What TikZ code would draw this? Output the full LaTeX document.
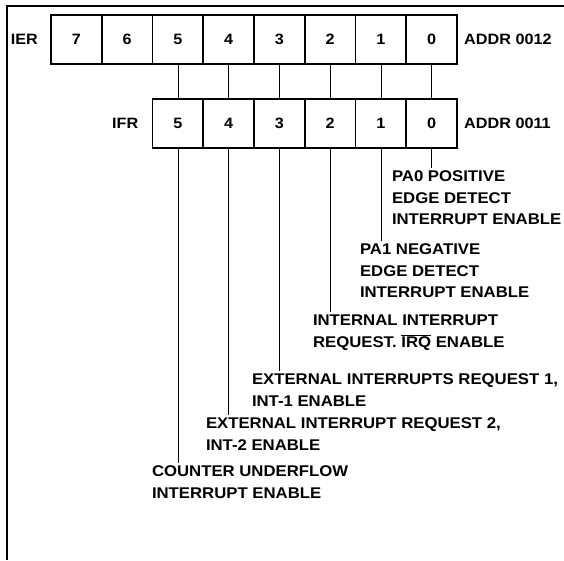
\documentclass[tikz,border=0pt]{standalone}
\usepackage{fontspec}
\setmainfont{Liberation Sans}[FakeStretch=1.08]
\usetikzlibrary{positioning}

\begin{document}
\begin{tikzpicture}[x=1pt,y=-1pt,node distance=0pt,
  cell/.style={draw,line width=1.6pt,outer sep=0pt,inner sep=0pt,minimum width=50.75pt,minimum height=49pt,font=\bfseries\fontsize{15}{15}\selectfont},
  lbl/.style={inner sep=0pt,font=\bfseries\fontsize{15}{15}\selectfont},
  note/.style={anchor=north west,align=left,inner sep=0pt,outer sep=3pt,font=\bfseries\fontsize{15.5}{21.5}\selectfont},
  wire/.style={line width=0.8pt}]
\useasboundingbox (0,0) rectangle (564,560);
\draw[line width=1.5pt] (7,560) -- (7,6) -- (564,6);
% IER register
\node[cell](e7) at (76.4,39.5) {7};
\node[cell,right=of e7](e6){6};
\node[cell,right=of e6](e5){5};
\node[cell,right=of e5](e4){4};
\node[cell,right=of e4](e3){3};
\node[cell,right=of e3](e2){2};
\node[cell,right=of e2](e1){1};
\node[cell,right=of e1](e0){0};
\node[lbl,left=13pt of e7](ier){IER};
\node[lbl,right=7pt of e0,anchor=west](addre){ADDR 0012};
% IFR register
\node[cell,below=35pt of e5](f5){5};
\node[cell,right=of f5](f4){4};
\node[cell,right=of f4](f3){3};
\node[cell,right=of f3](f2){2};
\node[cell,right=of f2](f1){1};
\node[cell,right=of f1](f0){0};
\node[lbl,left=14pt of f5](ifr){IFR};
\node[lbl,right=7pt of f0,anchor=west](addrf){ADDR 0011};
\draw[wire](e5)--(f5);\draw[wire](e4)--(f4);\draw[wire](e3)--(f3);\draw[wire](e2)--(f2);\draw[wire](e1)--(f1);\draw[wire](e0)--(f0);
% bit descriptions
\node[note](d0) at (389,168) {PA0 POSITIVE\\EDGE DETECT\\INTERRUPT ENABLE};
\node[note](d1) at (357,241) {PA1 NEGATIVE\\EDGE DETECT\\INTERRUPT ENABLE};
\node[note](d2) at (310,312) {INTERNAL INTERRUPT\\REQUEST. $\overline{\mbox{IRQ}}$ ENABLE};
\node[note](d3) at (249,371) {EXTERNAL INTERRUPTS REQUEST 1,\\INT-1 ENABLE};
\node[note](d4) at (203,415) {EXTERNAL INTERRUPT REQUEST 2,\\INT-2 ENABLE};
\node[note](d5) at (149,463) {COUNTER UNDERFLOW\\INTERRUPT ENABLE};
\draw[wire](f0.south)--(f0.south |- d0.north);
\draw[wire](f1.south)--(f1.south |- d1.north);
\draw[wire](f2.south)--(f2.south |- d2.north);
\draw[wire](f3.south)--(f3.south |- d3.north);
\draw[wire](f4.south)--(f4.south |- d4.north);
\draw[wire](f5.south)--(f5.south |- d5.north);
\end{tikzpicture}
\end{document}
